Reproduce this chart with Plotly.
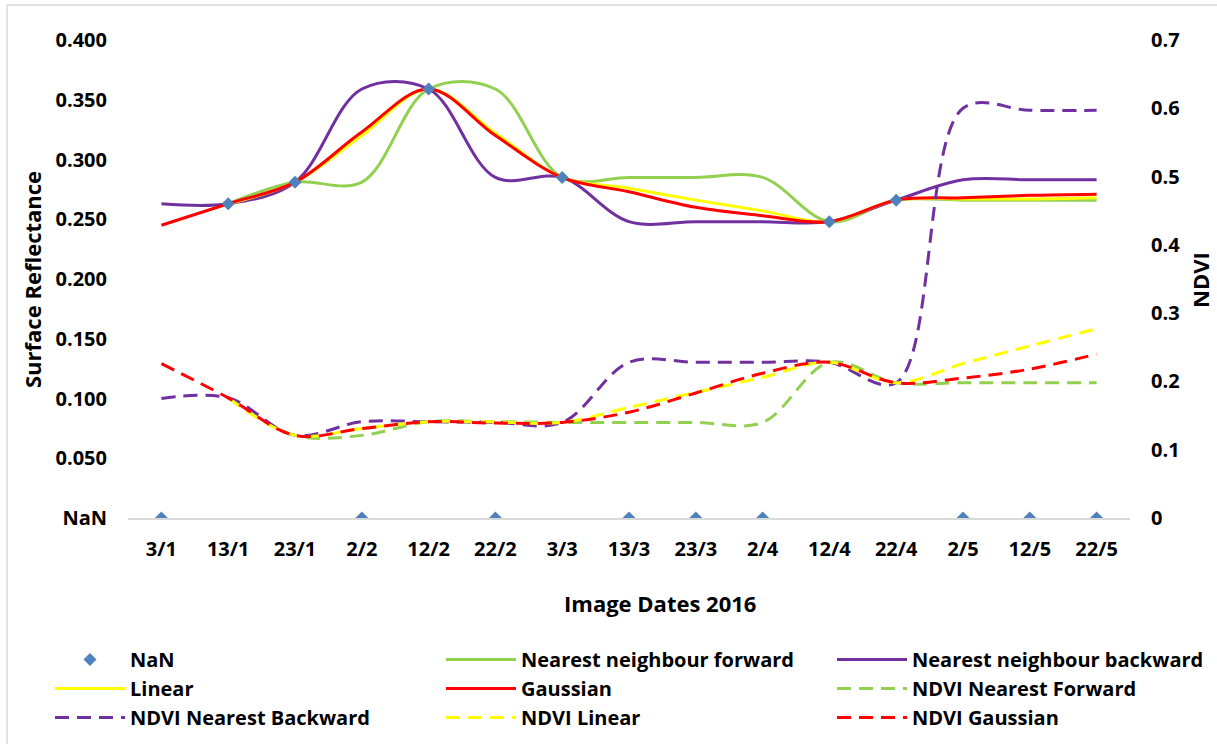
import plotly.graph_objects as go

# Image acquisition dates (day/month, 2016)
dates = ["3/1", "13/1", "23/1", "2/2", "12/2", "22/2", "3/3", "13/3",
         "23/3", "2/4", "12/4", "22/4", "2/5", "12/5", "22/5"]

# Observed surface reflectance; 0 marks a missing (NaN) acquisition
observed = [0, 0.263, 0.281, 0, 0.359, 0, 0.285, 0, 0, 0, 0.248, 0.266, 0, 0, 0]

# Gap-filled surface reflectance (left axis)
nn_forward = [None, 0.263, 0.281, 0.281, 0.359, 0.359, 0.285, 0.285, 0.285,
              0.285, 0.248, 0.266, 0.266, 0.266, 0.266]
nn_backward = [0.263, 0.263, 0.281, 0.359, 0.359, 0.285, 0.285, 0.248, 0.248,
               0.248, 0.248, 0.266, 0.283, 0.283, 0.283]
linear = [None, 0.263, 0.281, 0.320, 0.359, 0.322, 0.285, 0.276, 0.266,
          0.257, 0.248, 0.266, 0.267, 0.267, 0.268]
gaussian = [0.245, 0.263, 0.281, 0.323, 0.359, 0.320, 0.285, 0.273, 0.260,
            0.253, 0.248, 0.266, 0.268, 0.270, 0.271]

# Gap-filled NDVI (right axis)
ndvi_forward = [None, 0.176, 0.121, 0.121, 0.141, 0.141, 0.140, 0.140, 0.140,
                0.140, 0.228, 0.198, 0.198, 0.198, 0.198]
ndvi_backward = [0.175, 0.176, 0.121, 0.141, 0.141, 0.140, 0.140, 0.228, 0.228,
                 0.228, 0.228, 0.198, 0.600, 0.597, 0.597]
ndvi_linear = [None, 0.176, 0.121, 0.131, 0.141, 0.1405, 0.140, 0.162, 0.184,
               0.206, 0.228, 0.198, 0.226, 0.252, 0.277]
ndvi_gaussian = [0.226, 0.176, 0.121, 0.131, 0.141, 0.139, 0.140, 0.155, 0.183,
                 0.212, 0.228, 0.198, 0.205, 0.218, 0.240]

# Axis ticks
refl_ticks = [0, 0.05, 0.10, 0.15, 0.20, 0.25, 0.30, 0.35, 0.40]
refl_ticktext = ["NaN", "0.050", "0.100", "0.150", "0.200", "0.250", "0.300", "0.350", "0.400"]
ndvi_ticks = [0, 0.1, 0.2, 0.3, 0.4, 0.5, 0.6, 0.7]
ndvi_ticktext = ["0", "0.1", "0.2", "0.3", "0.4", "0.5", "0.6", "0.7"]

GREEN = "#92D050"
PURPLE = "#7030A0"
YELLOW = "#FFFF00"
RED = "#FF0000"
BLUE = "#4F81BD"
FONT = "Open Sans"
DASH = "14px,8px"

fig = go.Figure()

def line(name, y, color, dash, axis, legend, rank):
    fig.add_trace(go.Scatter(
        x=dates, y=y, name=name, mode="lines",
        line=dict(color=color, width=3, dash=dash, shape="spline", smoothing=1),
        yaxis=axis, legend=legend, legendrank=rank, connectgaps=False,
    ))

line("Nearest neighbour forward", nn_forward, GREEN, "solid", "y", "legend2", 1)
line("Nearest neighbour backward", nn_backward, PURPLE, "solid", "y", "legend3", 1)
line("Linear", linear, YELLOW, "solid", "y", "legend", 2)
line("Gaussian", gaussian, RED, "solid", "y", "legend2", 2)
line("NDVI Nearest Forward", ndvi_forward, GREEN, DASH, "y2", "legend3", 2)
line("NDVI Nearest Backward", ndvi_backward, PURPLE, DASH, "y2", "legend", 3)
line("NDVI Linear", ndvi_linear, YELLOW, DASH, "y2", "legend2", 3)
line("NDVI Gaussian", ndvi_gaussian, RED, DASH, "y2", "legend3", 3)

fig.add_trace(go.Scatter(
    x=dates, y=observed, name="NaN", mode="markers",
    marker=dict(symbol="diamond", size=10, color=BLUE),
    yaxis="y", legend="legend", legendrank=1,
))

L, R, T, B = 128, 87, 40, 226
W, H = 1217, 744
pw, ph = W - L - R, H - T - B

def px(x):
    return (x - L) / pw

def py(y):
    return (H - B - y) / ph

tick_font = dict(family=FONT, size=20, color="black", weight="bold")
title_font = dict(family=FONT, size=22, color="black", weight="bold")
legend_common = dict(
    orientation="v", xanchor="left", yanchor="top",
    font=dict(family=FONT, size=20, color="black", weight="bold"),
    bgcolor="rgba(0,0,0,0)", itemwidth=70, traceorder="normal",
)

fig.update_layout(
    width=W, height=H,
    margin=dict(l=L, r=R, t=T, b=B, autoexpand=False),
    paper_bgcolor="white", plot_bgcolor="white",
    xaxis=dict(
        type="category", range=[-0.5, 14.5], automargin=False,
        showgrid=False, zeroline=False, ticks="",
        showline=True, linecolor="#D9D9D9", linewidth=2,
        tickfont=tick_font, ticklabelstandoff=12,
    ),
    yaxis=dict(
        range=[0, 0.4], tickvals=refl_ticks, ticktext=refl_ticktext, automargin=False,
        showgrid=False, zeroline=False, showline=False, ticks="",
        tickfont=tick_font, ticklabelstandoff=20,
    ),
    yaxis2=dict(
        range=[0, 0.7], overlaying="y", side="right", automargin=False,
        tickvals=ndvi_ticks, ticktext=ndvi_ticktext,
        showgrid=False, zeroline=False, showline=False, ticks="",
        tickfont=tick_font, ticklabelstandoff=20,
    ),
    legend=dict(x=px(50), y=py(640), **legend_common),
    legend2=dict(x=px(441), y=py(640), **legend_common),
    legend3=dict(x=px(832), y=py(640), **legend_common),
    showlegend=True,
    annotations=[
        dict(text="Surface Reflectance", x=px(32), y=py(280), xref="paper", yref="paper",
             textangle=-90, showarrow=False, xanchor="center", yanchor="middle",
             font=title_font),
        dict(text="NDVI", x=px(1200), y=py(280), xref="paper", yref="paper",
             textangle=-90, showarrow=False, xanchor="center", yanchor="middle",
             font=title_font),
        dict(text="Image Dates 2016", x=px(660), y=py(603), xref="paper", yref="paper",
             showarrow=False, xanchor="center", yanchor="middle",
             font=title_font),
    ],
    shapes=[
        dict(type="line", xref="paper", yref="paper", x0=px(7), x1=px(7),
             y0=py(5), y1=py(744), line=dict(color="#D9D9D9", width=1.5)),
        dict(type="line", xref="paper", yref="paper", x0=px(7), x1=px(1217),
             y0=py(5), y1=py(5), line=dict(color="#D9D9D9", width=1.5)),
    ],
)

fig.write_html("out.html")
